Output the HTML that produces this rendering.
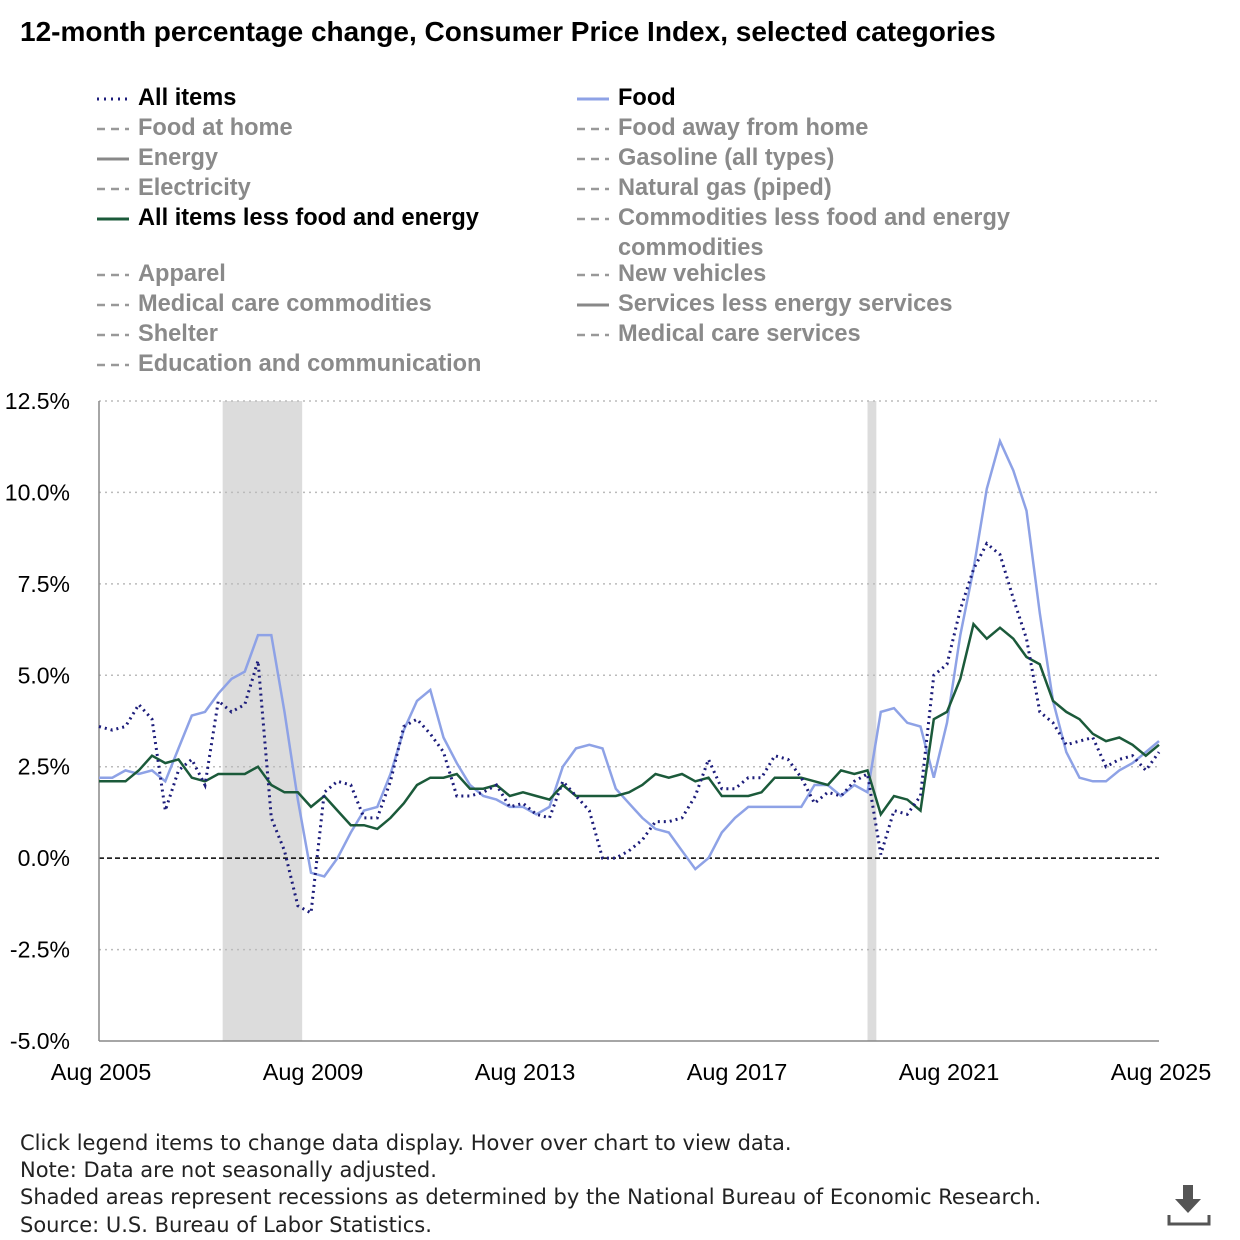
<!DOCTYPE html>
<html><head><meta charset="utf-8"><style>
body{margin:0;width:1240px;height:1240px;background:#fff;font-family:"Liberation Sans",sans-serif;position:relative;overflow:hidden}
.t{position:absolute;white-space:nowrap}
.lg{position:absolute;font-weight:bold;font-size:23.6px;color:#8a8a8a;height:28px;line-height:28px;white-space:nowrap;width:480px}
.lg.on{color:#000}
.lg svg{position:absolute;left:0;top:12px}
.lg span{position:absolute;left:43px;top:0;white-space:nowrap}
.foot{position:absolute;left:20px;font-size:21px;color:#222;font-family:"DejaVu Sans",sans-serif;white-space:nowrap}
</style></head><body>
<div class="t" style="left:20px;top:16px;font-size:28px;font-weight:bold;color:#000">12-month percentage change, Consumer Price Index, selected categories</div>
<div id="legend"></div>
<svg id="chart" width="1240" height="1100" style="position:absolute;left:0;top:0"></svg>
<div class="foot" style="top:1131px">Click legend items to change data display. Hover over chart to view data.</div>
<div class="foot" style="top:1158px">Note: Data are not seasonally adjusted.</div>
<div class="foot" style="top:1185px">Shaded areas represent recessions as determined by the National Bureau of Economic Research.</div>
<div class="foot" style="top:1213px">Source: U.S. Bureau of Labor Statistics.</div>
<svg width="44" height="44" style="position:absolute;left:1167px;top:1183px"><path d="M16 2h10v14h8L21 30 8 16h8z" fill="#555"/><path d="M2 32v9h40v-9" fill="none" stroke="#555" stroke-width="3"/></svg>
<script>
// quarterly samples starting Aug 2005 (every 3 months) to Aug 2025
const allItems=[3.6,3.5,3.6,4.2,3.8,1.3,2.4,2.7,2.0,4.3,4.0,4.2,5.4,1.1,0.2,-1.3,-1.5,1.8,2.1,2.0,1.1,1.1,2.1,3.6,3.8,3.4,2.9,1.7,1.7,1.8,2.0,1.4,1.5,1.2,1.1,2.1,1.7,1.3,0.0,0.0,0.2,0.5,1.0,1.0,1.1,1.7,2.7,1.9,1.9,2.2,2.2,2.8,2.7,2.2,1.5,1.8,1.7,2.1,2.3,0.1,1.3,1.2,1.7,5.0,5.3,6.8,7.9,8.6,8.3,7.1,6.0,4.0,3.7,3.1,3.2,3.3,2.5,2.7,2.8,2.4,2.9];
const food=[2.2,2.2,2.4,2.3,2.4,2.1,3.0,3.9,4.0,4.5,4.9,5.1,6.1,6.1,4.0,1.6,-0.4,-0.5,0.0,0.7,1.3,1.4,2.3,3.5,4.3,4.6,3.3,2.6,2.0,1.7,1.6,1.4,1.4,1.2,1.4,2.5,3.0,3.1,3.0,1.9,1.5,1.1,0.8,0.7,0.2,-0.3,0.0,0.7,1.1,1.4,1.4,1.4,1.4,1.4,2.0,2.0,1.7,2.0,1.8,4.0,4.1,3.7,3.6,2.2,3.7,6.1,7.9,10.1,11.4,10.6,9.5,6.7,4.3,2.9,2.2,2.1,2.1,2.4,2.6,2.9,3.2];
const core=[2.1,2.1,2.1,2.4,2.8,2.6,2.7,2.2,2.1,2.3,2.3,2.3,2.5,2.0,1.8,1.8,1.4,1.7,1.3,0.9,0.9,0.8,1.1,1.5,2.0,2.2,2.2,2.3,1.9,1.9,2.0,1.7,1.8,1.7,1.6,2.0,1.7,1.7,1.7,1.7,1.8,2.0,2.3,2.2,2.3,2.1,2.2,1.7,1.7,1.7,1.8,2.2,2.2,2.2,2.1,2.0,2.4,2.3,2.4,1.2,1.7,1.6,1.3,3.8,4.0,4.9,6.4,6.0,6.3,6.0,5.5,5.3,4.3,4.0,3.8,3.4,3.2,3.3,3.1,2.8,3.1];
const yTicks=[12.5,10,7.5,5,2.5,0,-2.5,-5];
const xTickLabels=["Aug 2005","Aug 2009","Aug 2013","Aug 2017","Aug 2021","Aug 2025"];
const recessions=[[28,46],[174,176]]; // months since Aug 2005
const X0=99,X1=1159,Y0=401,Y1=1041;
const xs=m=>X0+(X1-X0)*m/240;
const ys=v=>Y0+(Y1-Y0)*(12.5-v)/17.5;
const NS="http://www.w3.org/2000/svg";
const svg=document.getElementById('chart');
function mk(tag,at){const e=document.createElementNS(NS,tag);for(const k in at)e.setAttribute(k,at[k]);svg.appendChild(e);return e;}
recessions.forEach(r=>{const e=mk('rect',{x:xs(r[0]),y:Y0,width:xs(r[1])-xs(r[0]),height:Y1-Y0,fill:'#dcdcdc'});

});
yTicks.forEach(v=>{const y=ys(v);
if(v!==0&&v!==-5){const g=mk('line',{x1:X0,x2:X1,y1:y,y2:y,stroke:'#bbb','stroke-dasharray':'2,4','stroke-width':1.5});

}
const t=mk('text',{x:70,y:y+8,'text-anchor':'end','font-size':23,fill:'#000','font-family':'Liberation Sans'});t.textContent=v.toFixed(1)+'%';

});
const z=mk('line',{x1:X0,x2:X1,y1:ys(0),y2:ys(0),stroke:'#000','stroke-dasharray':'5,3','stroke-width':1.5});


const ax=mk('line',{x1:X0,x2:X0,y1:Y0,y2:Y1,stroke:'#888','stroke-width':1.5});


const bx=mk('line',{x1:X0,x2:X1,y1:Y1,y2:Y1,stroke:'#888','stroke-width':1.5});


xTickLabels.forEach((l,i)=>{const t=mk('text',{x:xs(i*48)+2,y:1080,'text-anchor':'middle','font-size':23.5,fill:'#000','font-family':'Liberation Sans'});t.textContent=l;

});
function line(arr,st,name){const d=arr.map((v,i)=>(i?'L':'M')+xs(i*3).toFixed(1)+','+ys(v).toFixed(1)).join('');
const p=mk('path',Object.assign({d:d,fill:'none'},st));

}
line(food,{stroke:'#8ea2e6','stroke-width':2.5},'food-line');
line(core,{stroke:'#1b5a3a','stroke-width':2.5},'core-line');
line(allItems,{stroke:'#1c1c7a','stroke-width':3,'stroke-dasharray':'2,4'},'all-items-line');
// legend
const leg=[["All items",95,98,"dot",1],["Food",575,98,"food",1],["Food at home",95,128,"dash",0],["Food away from home",575,128,"dash",0],["Energy",95,158,"solid",0],["Gasoline (all types)",575,158,"dash",0],["Electricity",95,188,"dash",0],["Natural gas (piped)",575,188,"dash",0],["All items less food and energy",95,218,"core",1],["Commodities less food and energy",575,218,"dash",0],["Apparel",95,274,"dash",0],["New vehicles",575,274,"dash",0],["Medical care commodities",95,304,"dash",0],["Services less energy services",575,304,"solid",0],["Shelter",95,334,"dash",0],["Medical care services",575,334,"dash",0],["Education and communication",95,364,"dash",0]];
const L=document.getElementById('legend');
leg.forEach(e=>{const d=document.createElement('div');d.className='lg'+(e[4]?' on':'');d.style.left=e[1]+'px';d.style.top=(e[2]-14)+'px';


let st={dot:'stroke="#1c1c7a" stroke-dasharray="2,5" stroke-width="3"',food:'stroke="#8ea2e6" stroke-width="3"',core:'stroke="#1b5a3a" stroke-width="3"',solid:'stroke="#888" stroke-width="3"',dash:'stroke="#999" stroke-dasharray="8,6" stroke-width="2.5"'}[e[3]];
d.innerHTML='<svg width="36" height="6"><line x1="2" x2="34" y1="3" y2="3" '+st+'/></svg><span>'+e[0]+'</span>';L.appendChild(d);});
const c=document.createElement('div');c.className='lg';c.style.left='575px';c.style.top='234px';


c.innerHTML='<span>commodities</span>';L.appendChild(c);
</script>
</body></html>
